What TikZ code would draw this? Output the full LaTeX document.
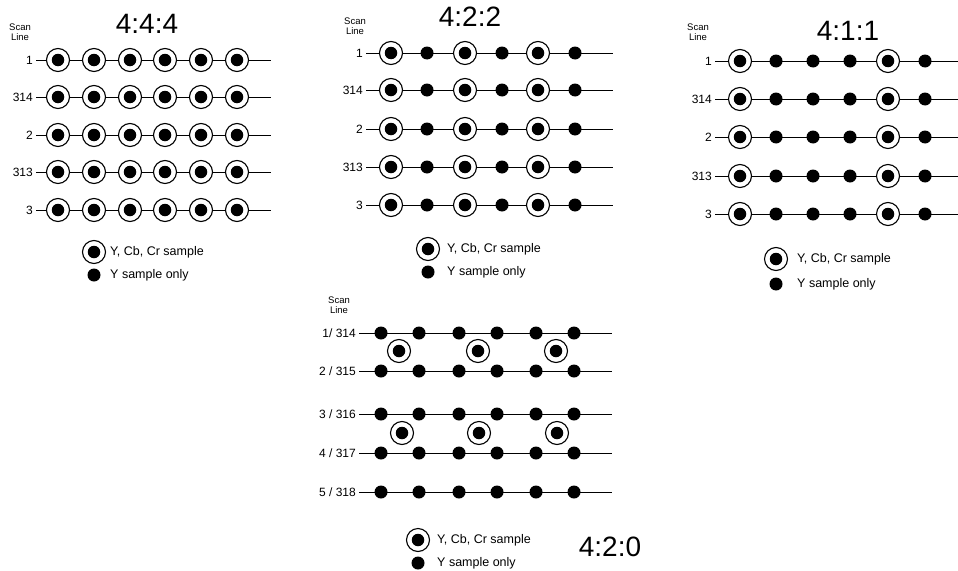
\documentclass[tikz,border=0pt]{standalone}
\usepackage{fontspec}
\setmainfont{Liberation Sans}
\tikzset{
  ring/.style={circle,draw,line width=1.1pt,fill=white,minimum size=23pt,inner sep=0pt},
  core/.style={circle,fill=black,minimum size=12.5pt,inner sep=0pt},
  ydot/.style={circle,fill=black,minimum size=13pt,inner sep=0pt},
  scanline/.style={line width=0.8pt},
  lbl/.style={anchor=east,inner xsep=3pt,inner ysep=0pt,font=\fontsize{12}{12}\selectfont},
  ttl/.style={inner sep=0pt,font=\fontsize{28}{30}\selectfont},
  scan/.style={align=center,inner sep=0pt,font=\fontsize{9.5}{10}\selectfont},
  leg/.style={anchor=west,inner sep=0pt,font=\fontsize{12.5}{13}\selectfont},
}
\begin{document}
\begin{tikzpicture}[x=1pt,y=-1pt]
\useasboundingbox[fill=white] (0,0) rectangle (958,570);

% ---------- 4:4:4 ----------
\node[ttl] (t444) at (147,24) {4:4:4};
\node[scan] (s444) at (20,32) {Scan\\Line};
\foreach \y/\t [count=\r] in {60/1,97/314,135/2,172/313,210/3}{
  \node[lbl] (a-l\r) at (36,\y) {\t};
  \coordinate (a-e\r) at (271,\y);
  \draw[scanline] (a-l\r.east) -- (a-e\r);
  \foreach \x [count=\c] in {58,94,130,165,201,237}{
    \node[ring] (a-\r-\c) at (\x,\y) {};
    \node[core] (a-\r-\c-c) at (\x,\y) {};
  }
}
\node[ring] (a-lr) at (94,252) {};
\node[core] (a-lrc) at (94,252) {};
\node[leg] (a-lrt) at (110,252) {Y, Cb, Cr sample};
\node[ydot] (a-ld) at (94,275) {};
\node[leg] (a-ldt) at (110,275) {Y sample only};

% ---------- 4:2:2 ----------
\node[ttl] (t422) at (470,17) {4:2:2};
\node[scan] (s422) at (355,26) {Scan\\Line};
\foreach \y/\t [count=\r] in {53/1,90/314,129/2,167/313,205/3}{
  \node[lbl] (b-l\r) at (366,\y) {\t};
  \coordinate (b-e\r) at (613,\y);
  \draw[scanline] (b-l\r.east) -- (b-e\r);
  \foreach \x [count=\c] in {391,465,538}{
    \node[ring] (b-\r-\c) at (\x,\y) {};
    \node[core] (b-\r-\c-c) at (\x,\y) {};
  }
  \foreach \x [count=\c] in {427,502,575}{
    \node[ydot] (b-\r-y\c) at (\x,\y) {};
  }
}
\node[ring] (b-lr) at (428,249) {};
\node[core] (b-lrc) at (428,249) {};
\node[leg] (b-lrt) at (447,249) {Y, Cb, Cr sample};
\node[ydot] (b-ld) at (428,272) {};
\node[leg] (b-ldt) at (447,272) {Y sample only};

% ---------- 4:1:1 ----------
\node[ttl] (t411) at (848,31) {4:1:1};
\node[scan] (s411) at (698,32) {Scan\\Line};
\foreach \y/\t [count=\r] in {61/1,99/314,137/2,176/313,214/3}{
  \node[lbl] (c-l\r) at (715,\y) {\t};
  \coordinate (c-e\r) at (958,\y);
  \draw[scanline] (c-l\r.east) -- (c-e\r);
  \foreach \x [count=\c] in {740,888}{
    \node[ring] (c-\r-\c) at (\x,\y) {};
    \node[core] (c-\r-\c-c) at (\x,\y) {};
  }
  \foreach \x [count=\c] in {776,813,850,925}{
    \node[ydot] (c-\r-y\c) at (\x,\y) {};
  }
}
\node[ring] (c-lr) at (776,259) {};
\node[core] (c-lrc) at (776,259) {};
\node[leg] (c-lrt) at (797,259) {Y, Cb, Cr sample};
\node[ydot] (c-ld) at (776,284) {};
\node[leg] (c-ldt) at (797,284) {Y sample only};

% ---------- 4:2:0 ----------
\node[scan] (s420) at (339,305) {Scan\\Line};
\foreach \y/\t [count=\r] in {333/{1/ 314},371/{2 / 315},414/{3 / 316},453/{4 / 317},492/{5 / 318}}{
  \node[lbl] (d-l\r) at (359,\y) {\t};
  \coordinate (d-e\r) at (612,\y);
  \draw[scanline] (d-l\r.east) -- (d-e\r);
  \foreach \x [count=\c] in {381,419,459,497,536,574}{
    \node[ydot] (d-\r-\c) at (\x,\y) {};
  }
}
\foreach \x [count=\c] in {399,478,556}{
  \node[ring] (d-u\c) at (\x,351) {};
  \node[core] (d-u\c-c) at (\x,351) {};
}
\foreach \x [count=\c] in {402,479,557}{
  \node[ring] (d-v\c) at (\x,433) {};
  \node[core] (d-v\c-c) at (\x,433) {};
}
\node[ring] (d-lr) at (418,540) {};
\node[core] (d-lrc) at (418,540) {};
\node[leg] (d-lrt) at (437,540) {Y, Cb, Cr sample};
\node[ydot] (d-ld) at (418,563) {};
\node[leg] (d-ldt) at (437,563) {Y sample only};
\node[ttl] (t420) at (610,547) {4:2:0};
\end{tikzpicture}
\end{document}
